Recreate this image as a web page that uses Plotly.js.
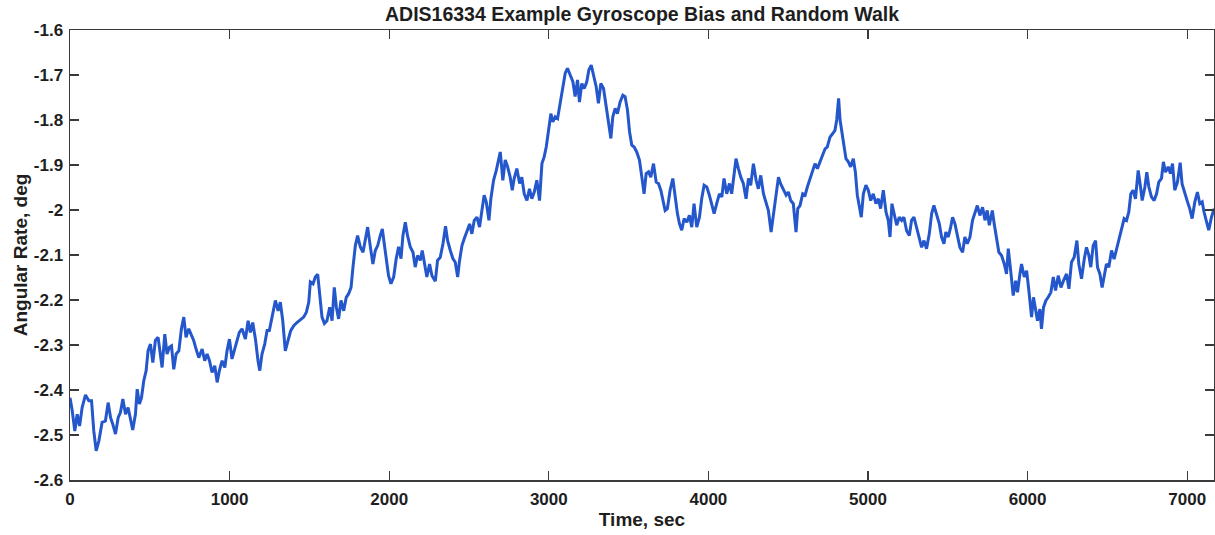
<!DOCTYPE html>
<html>
<head>
<meta charset="utf-8">
<script src="https://cdn.plot.ly/plotly-3.0.1.min.js"></script>
<style>
  html, body { margin: 0; padding: 0; background: #ffffff; }
  #chart { width: 1215px; height: 535px; }
</style>
</head>
<body>
<div id="chart"></div>
<script>
// Gyroscope output (deg) against time (sec), logged in five consecutive stretches.
const timeA = [0, 14, 30, 45, 60, 76, 97, 118, 135, 149, 164, 181, 201, 222, 239, 254, 268, 285, 302, 316, 331, 348, 364, 379, 393, 410, 421, 435, 448, 462, 477, 489, 504, 519, 535, 552, 567, 577, 594, 608, 623, 636, 650, 665, 682, 698, 713, 727, 744, 761, 775, 790, 807, 828, 844, 859, 874, 890, 907, 922, 936, 953, 970, 984, 999, 1015, 1032, 1047, 1061, 1078, 1099, 1116, 1130, 1145, 1162, 1178, 1189, 1203, 1220, 1235, 1249, 1266, 1287, 1304, 1318, 1333, 1349, 1366, 1383, 1402, 1422];
const rateA = [-2.417, -2.446, -2.491, -2.454, -2.480, -2.439, -2.411, -2.424, -2.424, -2.491, -2.535, -2.513, -2.472, -2.469, -2.428, -2.461, -2.476, -2.498, -2.461, -2.450, -2.420, -2.454, -2.439, -2.469, -2.489, -2.454, -2.398, -2.431, -2.417, -2.380, -2.357, -2.313, -2.298, -2.339, -2.290, -2.283, -2.328, -2.350, -2.276, -2.320, -2.305, -2.302, -2.354, -2.320, -2.313, -2.264, -2.238, -2.283, -2.264, -2.279, -2.290, -2.309, -2.328, -2.309, -2.335, -2.320, -2.335, -2.361, -2.346, -2.383, -2.357, -2.335, -2.350, -2.313, -2.287, -2.331, -2.309, -2.290, -2.272, -2.264, -2.287, -2.246, -2.272, -2.250, -2.287, -2.335, -2.357, -2.320, -2.298, -2.268, -2.268, -2.238, -2.201, -2.224, -2.205, -2.246, -2.313, -2.290, -2.268, -2.257, -2.250];

const timeB = [1464, 1481, 1496, 1506, 1523, 1537, 1552, 1564, 1579, 1594, 1610, 1627, 1642, 1656, 1669, 1683, 1698, 1715, 1731, 1746, 1761, 1773, 1788, 1802, 1819, 1836, 1850, 1865, 1882, 1898, 1913, 1928, 1944, 1957, 1969, 1982, 1996, 2011, 2028, 2044, 2059, 2074, 2086, 2101, 2115, 2132, 2149, 2163, 2178, 2195, 2207, 2220, 2236, 2253, 2268, 2289, 2303, 2320, 2337, 2353, 2366, 2383, 2399, 2414, 2429, 2441, 2456, 2470, 2487, 2504, 2518, 2533, 2550, 2566, 2581, 2595, 2608, 2625, 2637, 2654, 2671, 2685, 2696, 2712, 2727, 2742, 2758, 2771, 2783, 2800, 2817, 2831, 2846, 2863, 2879, 2894, 2909, 2925, 2942];
const rateB = [-2.238, -2.227, -2.205, -2.160, -2.164, -2.149, -2.143, -2.179, -2.238, -2.252, -2.246, -2.216, -2.246, -2.172, -2.216, -2.242, -2.201, -2.224, -2.194, -2.186, -2.172, -2.127, -2.079, -2.057, -2.082, -2.094, -2.068, -2.038, -2.082, -2.120, -2.090, -2.079, -2.057, -2.042, -2.075, -2.105, -2.146, -2.164, -2.149, -2.108, -2.082, -2.108, -2.057, -2.027, -2.057, -2.082, -2.094, -2.127, -2.101, -2.112, -2.090, -2.116, -2.149, -2.120, -2.146, -2.158, -2.112, -2.105, -2.075, -2.036, -2.068, -2.090, -2.108, -2.116, -2.149, -2.112, -2.079, -2.064, -2.045, -2.031, -2.053, -2.023, -2.016, -2.038, -2.001, -1.967, -1.982, -2.023, -1.975, -1.934, -1.912, -1.889, -1.871, -1.934, -1.889, -1.904, -1.927, -1.956, -1.930, -1.908, -1.941, -1.927, -1.964, -1.979, -1.953, -1.975, -1.960, -1.934, -1.979];

const timeC = [2957, 2971, 2984, 2998, 3013, 3025, 3040, 3055, 3071, 3088, 3103, 3117, 3134, 3151, 3165, 3180, 3192, 3207, 3222, 3238, 3251, 3266, 3280, 3297, 3311, 3326, 3343, 3359, 3374, 3389, 3401, 3416, 3430, 3447, 3464, 3478, 3493, 3506, 3520, 3535, 3551, 3568, 3583, 3597, 3610, 3625, 3639, 3656, 3673, 3687, 3702, 3714, 3729, 3743, 3760, 3777, 3791, 3806, 3819, 3833, 3848, 3865, 3881, 3896, 3910, 3927, 3944, 3958, 3973, 3990, 4006, 4021, 4036, 4052, 4069, 4084, 4098, 4115, 4132, 4146, 4161, 4173, 4188, 4203, 4219, 4236, 4251, 4265, 4282, 4299, 4313, 4328, 4345, 4361, 4376];
const rateC = [-1.897, -1.882, -1.860, -1.823, -1.786, -1.804, -1.793, -1.797, -1.763, -1.719, -1.696, -1.685, -1.700, -1.715, -1.748, -1.711, -1.760, -1.719, -1.730, -1.715, -1.689, -1.678, -1.700, -1.726, -1.763, -1.719, -1.730, -1.771, -1.812, -1.841, -1.793, -1.774, -1.786, -1.760, -1.745, -1.748, -1.778, -1.826, -1.856, -1.860, -1.871, -1.889, -1.927, -1.964, -1.919, -1.915, -1.927, -1.897, -1.938, -1.941, -1.956, -1.979, -2.001, -1.997, -1.956, -1.930, -1.971, -2.008, -2.031, -2.045, -2.019, -2.027, -2.012, -2.038, -1.986, -2.038, -2.016, -1.975, -1.945, -1.949, -1.967, -1.990, -2.008, -1.986, -1.964, -1.971, -1.930, -1.964, -1.941, -1.964, -1.919, -1.886, -1.908, -1.927, -1.941, -1.975, -1.930, -1.945, -1.897, -1.934, -1.953, -1.923, -1.964, -1.986, -2.001];

const timeD = [4393, 4407, 4424, 4439, 4453, 4470, 4487, 4501, 4516, 4532, 4549, 4560, 4574, 4591, 4606, 4620, 4637, 4654, 4668, 4683, 4699, 4716, 4731, 4745, 4762, 4779, 4793, 4804, 4816, 4825, 4835, 4850, 4862, 4877, 4891, 4908, 4921, 4933, 4946, 4958, 4971, 4987, 5002, 5017, 5033, 5050, 5065, 5079, 5096, 5113, 5127, 5138, 5150, 5163, 5180, 5196, 5211, 5225, 5242, 5259, 5273, 5288, 5305, 5321, 5336, 5351, 5367, 5384, 5399, 5413, 5430, 5447, 5461, 5476, 5488, 5503, 5518, 5530, 5545, 5559, 5576, 5593, 5607, 5622, 5639, 5655, 5670, 5685, 5701, 5718, 5733, 5747, 5760];
const rateD = [-2.049, -2.008, -1.971, -1.927, -1.942, -1.953, -1.967, -1.960, -1.979, -1.986, -2.049, -1.997, -1.990, -1.964, -1.967, -1.949, -1.930, -1.916, -1.897, -1.908, -1.893, -1.875, -1.864, -1.860, -1.838, -1.830, -1.823, -1.800, -1.752, -1.800, -1.823, -1.860, -1.886, -1.893, -1.904, -1.886, -1.916, -1.967, -1.994, -2.016, -1.964, -1.945, -1.956, -1.979, -1.964, -1.986, -1.975, -1.997, -1.956, -2.005, -2.023, -2.060, -1.986, -2.008, -2.034, -2.016, -2.023, -2.016, -2.046, -2.057, -2.023, -2.016, -2.042, -2.064, -2.083, -2.068, -2.086, -2.053, -2.008, -1.990, -2.012, -2.031, -2.060, -2.075, -2.049, -2.060, -2.038, -2.016, -2.031, -2.053, -2.083, -2.094, -2.060, -2.075, -2.060, -2.023, -2.005, -1.990, -2.012, -1.994, -2.023, -2.001, -2.034];

const timeE = [5779, 5791, 5806, 5820, 5837, 5854, 5868, 5879, 5895, 5910, 5925, 5937, 5952, 5962, 5979, 5994, 6008, 6025, 6037, 6050, 6062, 6077, 6087, 6100, 6115, 6129, 6146, 6161, 6175, 6192, 6209, 6225, 6244, 6259, 6275, 6292, 6309, 6321, 6338, 6355, 6369, 6384, 6396, 6411, 6426, 6438, 6453, 6467, 6480, 6494, 6509, 6526, 6542, 6557, 6572, 6588, 6605, 6620, 6634, 6647, 6661, 6676, 6693, 6705, 6718, 6735, 6747, 6760, 6776, 6793, 6808, 6822, 6839, 6851, 6864, 6881, 6895, 6908, 6922, 6939, 6956, 6968, 6985, 7002, 7016, 7031, 7048, 7064, 7079, 7094, 7106, 7121, 7135, 7152, 7169];
const rateE = [-2.001, -2.031, -2.060, -2.094, -2.101, -2.120, -2.142, -2.086, -2.138, -2.190, -2.157, -2.183, -2.142, -2.120, -2.149, -2.135, -2.179, -2.238, -2.194, -2.224, -2.246, -2.220, -2.264, -2.216, -2.201, -2.194, -2.183, -2.149, -2.179, -2.146, -2.172, -2.157, -2.142, -2.175, -2.116, -2.105, -2.068, -2.120, -2.153, -2.109, -2.083, -2.101, -2.127, -2.079, -2.068, -2.127, -2.142, -2.172, -2.142, -2.120, -2.127, -2.090, -2.109, -2.086, -2.068, -2.038, -2.019, -2.023, -2.005, -1.964, -1.956, -1.975, -1.912, -1.942, -1.979, -1.949, -1.916, -1.949, -1.971, -1.979, -1.964, -1.938, -1.930, -1.893, -1.916, -1.904, -1.919, -1.897, -1.956, -1.938, -1.895, -1.942, -1.964, -1.982, -1.997, -2.019, -1.982, -1.960, -1.986, -1.982, -2.005, -2.027, -2.045, -2.016, -1.997];

// Axis ticks
const xTickVals = [0, 1000, 2000, 3000, 4000, 5000, 6000, 7000];
const xTickText = ['0', '1000', '2000', '3000', '4000', '5000', '6000', '7000'];
const yTickVals = [-2.6, -2.5, -2.4, -2.3, -2.2, -2.1, -2.0, -1.9, -1.8, -1.7, -1.6];
const yTickText = ['-2.6', '-2.5', '-2.4', '-2.3', '-2.2', '-2.1', '-2', '-1.9', '-1.8', '-1.7', '-1.6'];

const timeSec = [].concat(timeA, timeB, timeC, timeD, timeE);
const rateDeg = [].concat(rateA, rateB, rateC, rateD, rateE);

const fontFamily = '"Liberation Sans", Arial, Helvetica, sans-serif';
const axisColor = '#3a3a3a';
const textColor = '#1e1e1e';

const trace = {
  x: timeSec,
  y: rateDeg,
  type: 'scatter',
  mode: 'lines',
  line: { color: '#2456cc', width: 3 },
  hoverinfo: 'x+y'
};

const axisCommon = {
  showgrid: false,
  zeroline: false,
  showline: true,
  linecolor: axisColor,
  linewidth: 1.5,
  mirror: 'ticks',
  ticks: 'inside',
  ticklen: 9,
  tickwidth: 1.2,
  tickcolor: axisColor,
  tickfont: { family: fontFamily, size: 17, color: textColor, weight: 'bold' },
  tickmode: 'array'
};

const layout = {
  width: 1215,
  height: 535,
  paper_bgcolor: '#ffffff',
  plot_bgcolor: '#ffffff',
  showlegend: false,
  margin: { l: 70, r: 1, t: 30, b: 55 },
  font: { family: fontFamily, color: textColor },
  title: {
    text: '<b>ADIS16334 Example Gyroscope Bias and Random Walk</b>',
    font: { family: fontFamily, size: 19.5, color: textColor },
    x: 0.5,
    xref: 'paper',
    xanchor: 'center',
    y: 0.974,
    yref: 'container',
    yanchor: 'middle'
  },
  xaxis: Object.assign({}, axisCommon, {
    range: [0, 7168],
    tickvals: xTickVals,
    ticktext: xTickText,
    ticklabelstandoff: 3,
    title: { text: '<b>Time, sec</b>', font: { family: fontFamily, size: 19, color: textColor }, standoff: 5 }
  }),
  yaxis: Object.assign({}, axisCommon, {
    range: [-2.6, -1.6],
    tickvals: yTickVals,
    ticktext: yTickText,
    ticklabelstandoff: 2,
    title: { text: '<b>Angular Rate, deg</b>', font: { family: fontFamily, size: 19, color: textColor }, standoff: 1 }
  })
};

Plotly.newPlot('chart', [trace], layout, { displayModeBar: false, staticPlot: true });
</script>
</body>
</html>
